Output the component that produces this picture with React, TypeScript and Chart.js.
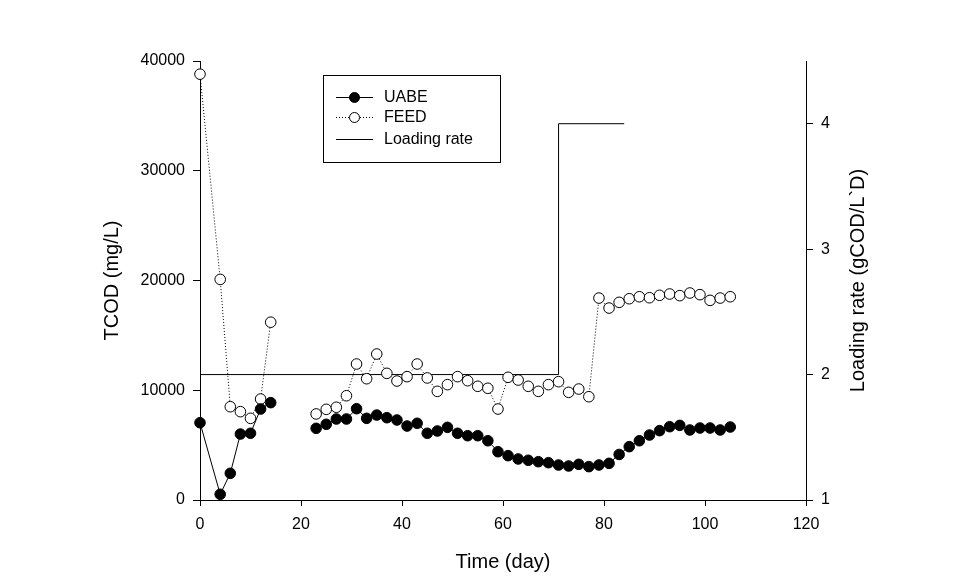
import React, { useEffect, useRef } from "react";
import { Chart, registerables } from "chart.js";

Chart.register(...registerables);

// Early phase (days 0-14)
const daysEarly = [0, 4, 6, 8, 10, 12, 14];
const uabeEarly = [7040, 520, 2430, 6010, 6080, 8290, 8870];
const feedEarly = [38800, 20100, 8500, 8050, 7440, 9200, 16200];

// Later phase (days 23-105)
const daysLate = [23, 25, 27, 29, 31, 33, 35, 37, 39, 41, 43, 45, 47, 49, 51, 53, 55, 57, 59, 61, 63, 65, 67, 69, 71, 73, 75, 77, 79, 81, 83, 85, 87, 89, 91, 93, 95, 97, 99, 101, 103, 105];
const uabeLate = [6530, 6900, 7380, 7380, 8320, 7440, 7740, 7500, 7290, 6740, 6990, 6080, 6290, 6620, 6080, 5860, 5860, 5400, 4400, 4040, 3740, 3620, 3490, 3400, 3190, 3100, 3250, 3040, 3190, 3340, 4150, 4860, 5400, 5920, 6320, 6680, 6800, 6380, 6560, 6560, 6380, 6650];
const feedLate = [7840, 8260, 8450, 9500, 12390, 11050, 13300, 11540, 10840, 11240, 12390, 11120, 9900, 10510, 11240, 10870, 10360, 10180, 8290, 11180, 10930, 10360, 9900, 10510, 10780, 9810, 10110, 9410, 18400, 17490, 18010, 18340, 18520, 18430, 18650, 18770, 18620, 18860, 18710, 18190, 18400, 18520];

// Loading rate (gCOD/L·D)
const loadDays = [0, 71, 71, 84];
const loadRate = [2, 2, 4, 4];

const xTicks = [0, 20, 40, 60, 80, 100, 120];
const yTicks = [0, 10000, 20000, 30000, 40000];
const y1Ticks = [1, 2, 3, 4];

const legendLabels = ["UABE", "FEED", "Loading rate"];
const rightTitle = "Loading rate (gCOD/L`D)";

const FONT = "'Liberation Sans', Arial, sans-serif";

const pts = (xs: number[], ys: number[]) => xs.map((x, i) => ({ x, y: ys[i] }));

const legendPlugin = {
  id: "boxLegend",
  afterDraw(chart: any) {
    const ctx = chart.ctx as CanvasRenderingContext2D;
    const ca = chart.chartArea;
    const bx = ca.left + 123;
    const by = ca.top + 14;
    const bw = 177;
    const bh = 87;
    ctx.save();
    ctx.fillStyle = "#fff";
    ctx.fillRect(bx, by, bw, bh);
    ctx.strokeStyle = "#000";
    ctx.lineWidth = 1;
    ctx.strokeRect(bx + 0.5, by + 0.5, bw, bh);
    const rows = [by + 22, by + 42, by + 64];
    const lx0 = bx + 13;
    const lx1 = bx + 50;
    const mx = (lx0 + lx1) / 2;
    ctx.font = `16px ${FONT}`;
    ctx.textBaseline = "middle";
    ctx.textAlign = "left";
    rows.forEach((ry, i) => {
      ctx.strokeStyle = "#000";
      ctx.lineWidth = 1;
      ctx.setLineDash(i === 1 ? [1, 2] : []);
      ctx.beginPath();
      ctx.moveTo(lx0, Math.round(ry) + 0.5);
      ctx.lineTo(lx1, Math.round(ry) + 0.5);
      ctx.stroke();
      ctx.setLineDash([]);
      if (i < 2) {
        ctx.beginPath();
        ctx.arc(mx, ry + 0.5, 5, 0, Math.PI * 2);
        ctx.fillStyle = i === 0 ? "#000" : "#fff";
        ctx.fill();
        ctx.stroke();
      }
      ctx.fillStyle = "#000";
      ctx.fillText(legendLabels[i], bx + 61, ry + 1);
    });
    // right axis title, reading bottom-to-top like the left one
    ctx.translate(ca.right + 52, (ca.top + ca.bottom) / 2);
    ctx.rotate(-Math.PI / 2);
    ctx.font = `20px ${FONT}`;
    ctx.textAlign = "center";
    ctx.textBaseline = "middle";
    ctx.fillStyle = "#000";
    ctx.fillText(rightTitle, 0, 0);
    ctx.restore();
  },
};

export default function App() {
  const ref = useRef<HTMLCanvasElement | null>(null);
  useEffect(() => {
    if (!ref.current) return;
    Chart.defaults.font.family = FONT;
    Chart.defaults.color = "#000";
    const filled = {
      borderColor: "#000",
      borderWidth: 1,
      pointRadius: 5.3,
      pointBackgroundColor: "#000",
      pointBorderColor: "#000",
      pointBorderWidth: 1,
      yAxisID: "y",
      tension: 0,
      clip: false,
    };
    const open = {
      borderColor: "#000",
      borderWidth: 1,
      borderDash: [1, 2],
      pointRadius: 5.3,
      pointBackgroundColor: "#fff",
      pointBorderColor: "#000",
      pointBorderWidth: 1,
      yAxisID: "y",
      tension: 0,
      clip: false,
    };
    const chart = new Chart(ref.current, {
      type: "line",
      data: {
        datasets: [
          { label: "UABE", data: pts(daysEarly, uabeEarly), ...filled },
          { label: "UABE2", data: pts(daysLate, uabeLate), ...filled },
          { label: "FEED", data: pts(daysEarly, feedEarly), ...open },
          { label: "FEED2", data: pts(daysLate, feedLate), ...open },
          {
            label: "Loading rate",
            data: pts(loadDays, loadRate),
            borderColor: "#000",
            borderWidth: 1,
            pointRadius: 0,
            yAxisID: "y1",
            tension: 0,
          },
        ] as any,
      },
      options: {
        animation: false,
        responsive: false,
        devicePixelRatio: 1,
        layout: { padding: { left: 100, right: 94, top: 61, bottom: 14 } },
        plugins: { legend: { display: false }, tooltip: { enabled: false } },
        scales: {
          x: {
            type: "linear",
            min: 0,
            max: 120,
            afterBuildTicks: (s: any) => {
              s.ticks = xTicks.map((v) => ({ value: v }));
            },
            afterFit: (s: any) => {
              s.height = 74;
            },
            ticks: { font: { size: 16 }, padding: 9, color: "#000", maxRotation: 0 },
            grid: { drawOnChartArea: false, drawTicks: true, tickLength: 6, color: "#000" },
            border: { display: true, color: "#000", width: 1 },
            title: { display: true, text: "Time (day)", font: { size: 20 }, color: "#000", padding: 0 },
          },
          y: {
            type: "linear",
            position: "left",
            min: 0,
            max: 40000,
            afterBuildTicks: (s: any) => {
              s.ticks = yTicks.map((v) => ({ value: v }));
            },
            afterFit: (s: any) => {
              s.width = 100;
            },
            ticks: { font: { size: 16 }, padding: 8, color: "#000", callback: (v: any) => String(v) },
            grid: { drawOnChartArea: false, drawTicks: true, tickLength: 7, color: "#000" },
            border: { display: true, color: "#000", width: 1 },
            title: { display: true, text: "TCOD (mg/L)", font: { size: 20 }, color: "#000", padding: 0 },
          },
          y1: {
            type: "linear",
            position: "right",
            min: 1,
            max: 4.5,
            afterBuildTicks: (s: any) => {
              s.ticks = y1Ticks.map((v) => ({ value: v }));
            },
            afterFit: (s: any) => {
              s.width = 64;
            },
            ticks: { font: { size: 16 }, padding: 8, color: "#000", callback: (v: any) => String(v) },
            grid: { drawOnChartArea: false, drawTicks: true, tickLength: 7, color: "#000" },
            border: { display: true, color: "#000", width: 1 },
            title: { display: false },
          },
        },
      } as any,
      plugins: [legendPlugin],
    });
    return () => chart.destroy();
  }, []);
  return (
    <div style={{ position: "absolute", left: 0, top: 0, width: 964, height: 588, background: "#fff" }}>
      <canvas ref={ref} width={964} height={588} />
    </div>
  );
}
